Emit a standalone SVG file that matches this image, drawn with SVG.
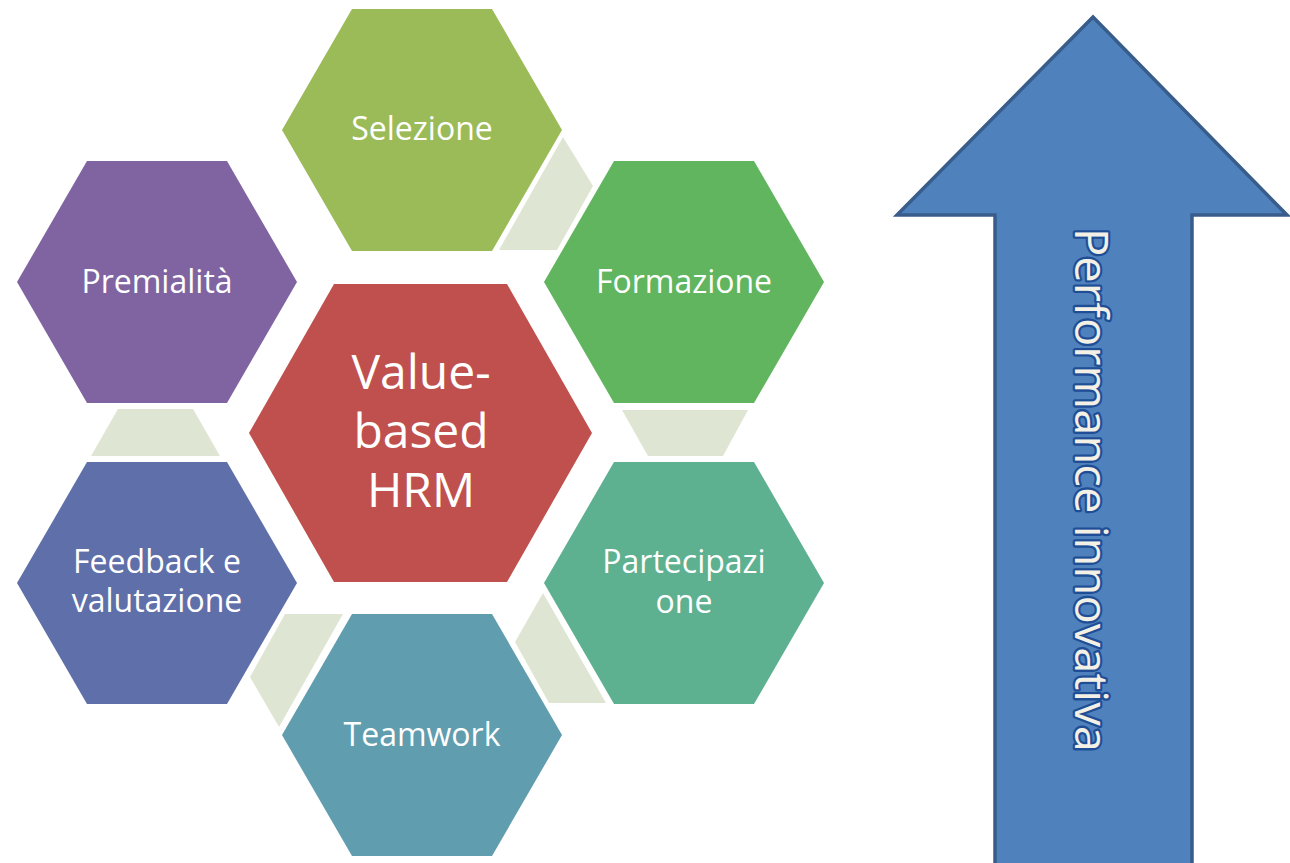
<svg xmlns="http://www.w3.org/2000/svg" width="1290" height="863" viewBox="0 0 1290 863">
<style>
.lbl{font-family:"Open Sans","Liberation Sans",sans-serif;font-size:32px;fill:#ffffff;text-anchor:middle}
.big{font-family:"Open Sans","Liberation Sans",sans-serif;font-size:48px;fill:#ffffff;text-anchor:middle}
.conn{fill:#DEE6D3}
.arrowtxt{font-family:"Open Sans","Liberation Sans",sans-serif;font-size:46px;fill:#F3F1E6;stroke:#1F4E96;stroke-width:4.5;stroke-linejoin:round;paint-order:stroke;text-anchor:middle}
</style>
<rect width="1290" height="863" fill="#ffffff"/>
<g id="connectors">
<polygon class="conn" points="563,137 593,186 557,250 499,250"/>
<polygon class="conn" points="622,410 748,410 723,456 648,456"/>
<polygon class="conn" points="543,593 606,703 549,703 515,642"/>
<polygon class="conn" points="285,614 343,614 279,727 250,677"/>
<polygon class="conn" points="118,409 193,409 220,456 91,456"/>
</g>
<g id="node-selezione">
<polygon fill="#9BBB59" points="282,130 352,9 492,9 562,130 492,251 352,251"/>
<text class="lbl" x="422" y="140">Selezione</text>
</g>
<g id="node-formazione">
<polygon fill="#60B55E" points="544,282 614,161 754,161 824,282 754,403 614,403"/>
<text class="lbl" x="684" y="293">Formazione</text>
</g>
<g id="node-partecipazione">
<polygon fill="#5DB190" points="544,583 614,462 754,462 824,583 754,704 614,704"/>
<text class="lbl" x="684" y="573">Partecipazi</text>
<text class="lbl" x="684" y="613">one</text>
</g>
<g id="node-teamwork">
<polygon fill="#609DAE" points="282,735 352,614 492,614 562,735 492,856 352,856"/>
<text class="lbl" x="422" y="746">Teamwork</text>
</g>
<g id="node-feedback">
<polygon fill="#5F6FA9" points="17,583 87,462 227,462 297,583 227,704 87,704"/>
<text class="lbl" x="157" y="573">Feedback e</text>
<text class="lbl" x="157" y="612">valutazione</text>
</g>
<g id="node-premialita">
<polygon fill="#8064A2" points="17,282 87,161 227,161 297,282 227,403 87,403"/>
<text class="lbl" x="157" y="293">Premialità</text>
</g>
<g id="node-center">
<polygon fill="#C0504D" points="249,433 334,284 507,284 592,433 507,582 334,582"/>
<text class="big" x="421" y="389">Value-</text>
<text class="big" x="421" y="448">based</text>
<text class="big" x="421" y="507">HRM</text>
</g>
<g id="node-arrow">
<polygon fill="#4F81BD" stroke="#385D8A" stroke-width="3.5" points="1093,17 1287,215 1192,215 1192,870 995,870 995,215 897,215"/>
<text class="arrowtxt" transform="translate(1075,490) rotate(90)" x="0" y="0" textLength="524" lengthAdjust="spacingAndGlyphs">Performance innovativa</text>
</g>
</svg>
